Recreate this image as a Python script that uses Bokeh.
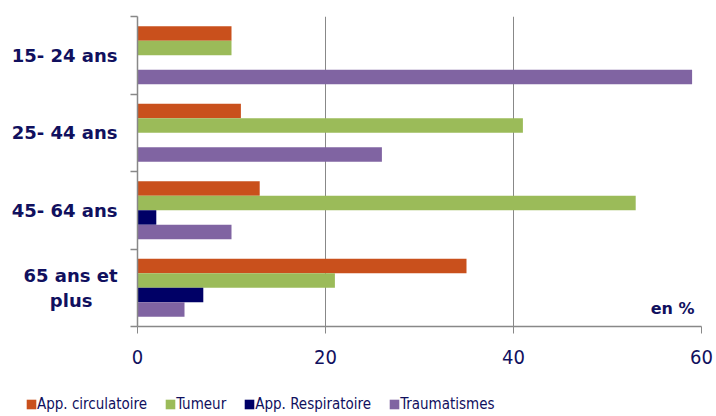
from bokeh.plotting import figure
from bokeh.models import (ColumnDataSource, FixedTicker, Range1d, Legend, LegendItem,
                          Label)
from bokeh.transform import dodge
from bokeh.embed import file_html
from bokeh.resources import INLINE

# ---- data ----
categories = ["15- 24 ans", "25- 44 ans", "45- 64 ans",
              "65 ans et\nplus\u00a0\u00a0\u00a0\u00a0"]
circulatoire = [10, 11, 13, 35]
tumeur = [10, 41, 53, 21]
respiratoire = [0, 0, 2, 7]
traumatismes = [59, 26, 10, 5]
series_names = ["App. circulatoire", "Tumeur", "App. Respiratoire", "Traumatismes"]
series_colors = ["#C9501C", "#9BBB59", "#000066", "#8064A2"]
x_ticks = [0, 20, 40, 60]

TEXT = "#10105E"
n = len(categories)
# category k (top first) is centered at n - k - 0.5
ypos = [n - k - 0.5 for k in range(n)]

src = ColumnDataSource(dict(y=ypos, circ=circulatoire, tum=tumeur,
                            resp=respiratoire, trau=traumatismes))

p = figure(frame_width=564, frame_height=310, output_backend="svg", toolbar_location=None,
           x_range=Range1d(0, 60), y_range=Range1d(0, n),
           min_border_left=137, min_border_right=15, min_border_top=16,
           min_border_bottom=54)
p.outline_line_color = None
p.background_fill_color = "white"

bar_h = 0.187
offsets = [0.28, 0.093, -0.093, -0.28]
cols = ["circ", "tum", "resp", "trau"]
for c, off, color in zip(cols, offsets, series_colors):
    p.hbar(y=dodge("y", off, range=p.y_range), right=c, left=0, height=bar_h,
           source=src, fill_color=color, line_color=None)

# x axis
xa = p.xaxis[0]
xa.ticker = FixedTicker(ticks=x_ticks)
xa.axis_line_color = "#888888"
xa.axis_line_width = 1.5
xa.major_tick_line_color = "#888888"
xa.major_tick_out = 7
xa.major_tick_in = 0
xa.minor_tick_line_color = None
xa.major_label_text_font = "DejaVu Sans Condensed, DejaVu Sans"
xa.major_label_text_font_size = "20px"
xa.major_label_text_color = TEXT
xa.major_label_standoff = 16

# y axis
ya = p.yaxis[0]
ya.ticker = FixedTicker(ticks=ypos, minor_ticks=list(range(n + 1)))
ya.major_label_overrides = {y: c for y, c in zip(ypos, categories)}
ya.axis_line_color = "#888888"
ya.axis_line_width = 1.5
ya.major_tick_line_color = None
ya.major_tick_out = 0
ya.minor_tick_line_color = "#888888"
ya.minor_tick_line_width = 1.5
ya.minor_tick_out = 7
ya.minor_tick_in = 0
ya.major_label_text_font = "DejaVu Sans"
ya.major_label_text_font_style = "bold"
ya.major_label_text_font_size = "18px"
ya.major_label_text_color = TEXT
ya.major_label_standoff = 13

p.xgrid.grid_line_color = "#888888"
p.xgrid.grid_line_width = 1
p.ygrid.grid_line_color = None

p.add_layout(Label(x=60, y=0, x_offset=-7, y_offset=9, text="en %",
                   text_align="right", text_baseline="bottom",
                   text_font="DejaVu Sans", text_font_style="bold",
                   text_font_size="16px", text_color=TEXT))

# ---- legend strip (separate figure, same series colours) ----
lf = figure(width=716, height=34, output_backend="svg", toolbar_location=None,
            x_range=Range1d(0, 1), y_range=Range1d(0, 1),
            min_border=0)
lf.outline_line_color = None
lf.axis.visible = False
lf.grid.grid_line_color = None
nan = float("nan")
leg_src = ColumnDataSource(dict(name=series_names, color=series_colors,
                                y=[nan] * len(series_names),
                                right=[nan] * len(series_names)))
leg_r = lf.hbar(y="y", right="right", left=0, height=1, fill_color="color",
                line_color=None, source=leg_src)
legend = Legend(items=[LegendItem(label=nm, renderers=[leg_r], index=i)
                       for i, nm in enumerate(series_names)],
                orientation="horizontal", location=(25, 1),
                label_text_font="DejaVu Sans Condensed, DejaVu Sans",
                label_text_font_size="15px", label_text_color=TEXT,
                glyph_width=12, glyph_height=12, spacing=17,
                label_standoff=0, border_line_color=None,
                background_fill_alpha=0, padding=0, margin=0)
lf.add_layout(legend)

open("out.html", "w").write(file_html([p, lf], INLINE))
